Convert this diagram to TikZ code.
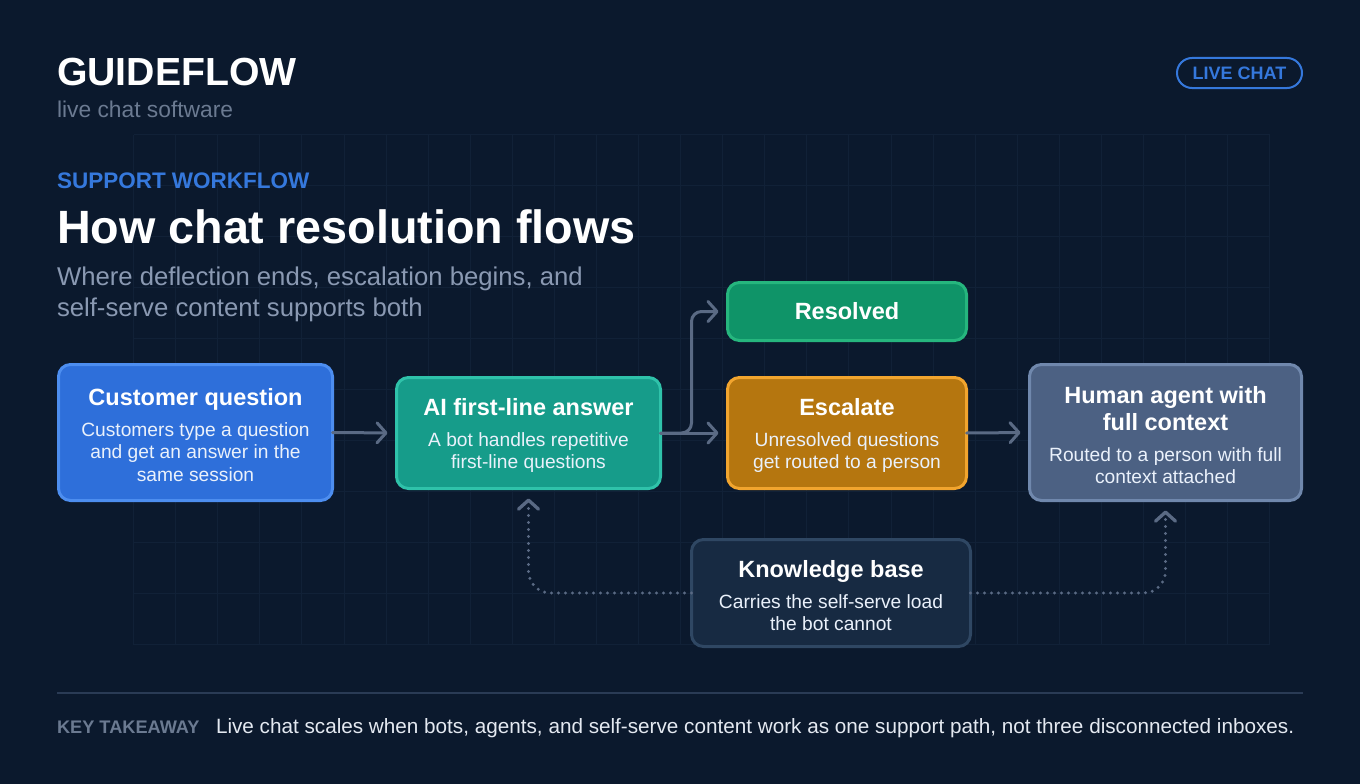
\documentclass[tikz,border=0pt]{standalone}
\usepackage{fontspec}
\setmainfont{Liberation Sans}
\usepackage{tikz}
\usetikzlibrary{arrows.meta,positioning}

\definecolor{bgnavy}{HTML}{0B192D}
\definecolor{gridline}{HTML}{112137}
\definecolor{accentblue}{HTML}{3578DC}
\definecolor{mutedgray}{HTML}{6B7A91}
\definecolor{subgray}{HTML}{8A99B2}
\definecolor{softwhite}{HTML}{E4E9F1}
\definecolor{cardtext}{HTML}{EAF1FB}
\definecolor{arrowgray}{HTML}{5A6A84}
\definecolor{rulecol}{HTML}{2A3B55}
\definecolor{custfill}{HTML}{2E6FDA}
\definecolor{custedge}{HTML}{4D8EF0}
\definecolor{aifill}{HTML}{169C8A}
\definecolor{aiedge}{HTML}{2FC2AA}
\definecolor{resfill}{HTML}{0F9468}
\definecolor{resedge}{HTML}{26B67E}
\definecolor{escfill}{HTML}{B5760F}
\definecolor{escedge}{HTML}{F2A52E}
\definecolor{humfill}{HTML}{4C6183}
\definecolor{humedge}{HTML}{7088AD}
\definecolor{kbfill}{HTML}{172A42}
\definecolor{kbedge}{HTML}{2F4763}

\newcommand{\setfs}[2]{\fontsize{#1}{#2}\selectfont}
\newcommand{\cardtitle}[1]{{\setfs{23.5}{27}\bfseries\color{white}#1}}
\newcommand{\cardlift}{\rule{0pt}{22pt}}

\begin{document}
\begin{tikzpicture}[
  x=1pt, y=-1pt,
  every node/.style={inner sep=0pt, outer sep=0pt},
  card/.style={draw, line width=3pt, rounded corners=12pt, rectangle, align=center, text=cardtext, font=\setfs{19.2}{22.5}},
  custcard/.style={card, fill=custfill, draw=custedge, minimum width=274pt, minimum height=136pt},
  aicard/.style={card, fill=aifill, draw=aiedge, minimum width=264pt, minimum height=111pt},
  rescard/.style={card, fill=resfill, draw=resedge, minimum width=239pt, minimum height=58pt},
  esccard/.style={card, fill=escfill, draw=escedge, minimum width=239pt, minimum height=111pt},
  humcard/.style={card, fill=humfill, draw=humedge, minimum width=272pt, minimum height=136pt},
  kbcard/.style={card, fill=kbfill, draw=kbedge, minimum width=279pt, minimum height=107pt},
  pill/.style={draw=accentblue, line width=2pt, rounded corners=15pt, minimum width=125pt, minimum height=30pt, text=accentblue, font=\setfs{18}{20}\bfseries},
  arr/.style={-{Straight Barb[length=9pt,width=20pt,line cap=round,line join=round]}, line width=3pt, draw=arrowgray, line cap=round, shorten >=9pt},
  dotarr/.style={arr, line width=3.3pt, dash pattern=on 0pt off 7pt, rounded corners=22pt, shorten >=10pt}
]
\useasboundingbox (0,0) rectangle (1360,784);
\fill[bgnavy] (0,0) rectangle (1360,784);

% faint grid behind the flow
\foreach \gx in {0,...,27}
  \draw[gridline, line width=1pt] ({133.6+42.08*\gx},134.7) -- ({133.6+42.08*\gx},644.7);
\foreach \gy in {0,...,10}
  \draw[gridline, line width=1pt] (133.6,{134.7+51*\gy}) -- (1269.8,{134.7+51*\gy});

% header
\node[anchor=base west, font=\setfs{39.2}{44}\bfseries, text=white] (brand) at (57,85) {GUIDEFLOW};
\node[anchor=base west, font=\setfs{22.8}{24}, text=mutedgray] (tagline) at (57,117) {live chat software};
\node[pill] (badge) at (1239.5,73) {LIVE CHAT};

\node[anchor=base west, font=\setfs{22.5}{26}\bfseries, text=accentblue] (kicker) at (57,188) {SUPPORT WORKFLOW};
\node[anchor=base west, font=\setfs{46.7}{50}\bfseries, text=white] (headline) at (57,243) {How chat resolution flows};
\node[anchor=base west, font=\setfs{25.7}{30}, text=subgray] (subline1) at (57,285) {Where deflection ends, escalation begins, and};
\node[anchor=base west, font=\setfs{25.7}{30}, text=subgray] (subline2) at (57,316) {self-serve content supports both};

% cards
\node[custcard] (cust) at (195.5,432.5) {\cardlift\cardtitle{Customer question}\\[8.5pt]Customers type a question\\and get an answer in the\\same session};
\node[aicard] (ai) at (528.5,433) {\cardlift\cardtitle{AI first-line answer}\\[8.5pt]A bot handles repetitive\\first-line questions};
\node[rescard] (res) at (847,311.5) {\cardtitle{Resolved}};
\node[esccard] (esc) at (847,433) {\cardlift\cardtitle{Escalate}\\[8.5pt]Unresolved questions\\get routed to a person};
\node[humcard] (human) at (1165.5,432.5) {\cardlift\cardtitle{Human agent with}\\[4.5pt]\cardtitle{full context}\\[8.5pt]Routed to a person with full\\context attached};
\node[kbcard] (kb) at (831,593) {\cardlift\cardtitle{Knowledge base}\\[8.5pt]Carries the self-serve load\\the bot cannot};

\draw[arr] (cust.east) -- (ai.west);
\draw[arr] (ai.east) -- (esc.west);
\draw[arr, rounded corners=10pt] (ai.east) -- ++(31,0) |- (res.west);
\draw[arr] (esc.east) -- (human.west);

\draw[dotarr] (kb.west) -| (ai.south);
\draw[dotarr] (kb.east) -| (human.south);

% takeaway
\draw[rulecol, line width=1.5pt] (57,693) -- (1303,693);
\node[anchor=base west, font=\setfs{18.2}{20}\bfseries, text=mutedgray] (keylabel) at (57,733.5) {KEY TAKEAWAY};
\node[anchor=base west, font=\setfs{20.7}{22}, text=softwhite] (keytext) at (216,733.5) {Live chat scales when bots, agents, and self-serve content work as one support path, not three disconnected inboxes.};
\end{tikzpicture}
\end{document}
